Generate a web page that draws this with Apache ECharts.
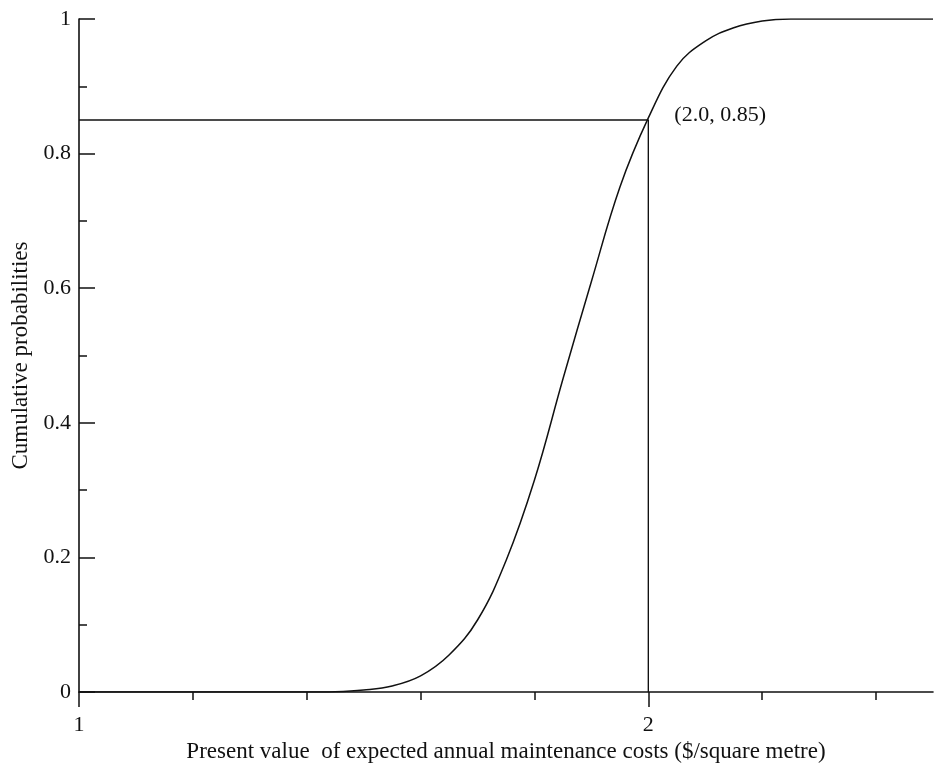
<!DOCTYPE html>
<html><head><meta charset="utf-8">
<script src="https://cdn.jsdelivr.net/npm/echarts@6/dist/echarts.min.js"></script>
<style>html,body{margin:0;padding:0;background:#fff}#c{width:936px;height:769px}</style>
</head><body><div id="c"></div>
<script>
// ---- data ----
const curveX = [1.0, 1.3, 1.4, 1.45, 1.5, 1.55, 1.6, 1.65, 1.7, 1.75, 1.8, 1.85, 1.9, 1.95, 2.0, 2.05, 2.1, 2.15, 2.2, 2.25, 2.5];
const curveY = [0, 0, 0, 0.0005, 0.003, 0.009, 0.024, 0.055, 0.107, 0.195, 0.315, 0.465, 0.61, 0.75, 0.853, 0.93, 0.967, 0.987, 0.997, 1.0, 1.0];
const refPoint = [2.0, 0.85];
const refLabel = '(2.0, 0.85)';
const xRange = [1, 2.5];
const yRange = [0, 1];
const xMajorTicks = [1, 2];
const xMinorTicks = [1.2, 1.4, 1.6, 1.8, 2.2, 2.4];
const xAxisName = 'Present value  of expected annual maintenance costs ($/square metre)';
const yAxisName = 'Cumulative probabilities';

// ---- chart ----
const FONT = '"Liberation Serif", "DejaVu Serif", serif';
const INK = '#111';
const chart = echarts.init(document.getElementById('c'), null, {renderer: 'canvas'});
const gridBox = {left: 79, right: 3, top: 19, bottom: 77, containLabel: false};
const curveData = curveX.map((x, i) => [x, curveY[i]]);
const refData = [
  [xRange[0], refPoint[1]],
  {value: refPoint.slice(), label: {show: true, position: 'right', distance: 26, offset: [0, -5],
     formatter: refLabel, fontFamily: FONT, fontSize: 22, color: INK}},
  [refPoint[0], yRange[0]]
];
chart.setOption({
  animation: false,
  backgroundColor: '#fff',
  grid: [Object.assign({}, gridBox), Object.assign({}, gridBox)],
  xAxis: [{
    gridIndex: 0, type: 'value', min: xRange[0], max: xRange[1], interval: 1,
    name: xAxisName, nameLocation: 'middle', nameGap: 41,
    nameTextStyle: {fontFamily: FONT, fontSize: 23, color: INK},
    axisLine: {show: true, lineStyle: {color: INK, width: 1.6}},
    axisTick: {show: true, length: 15, customValues: xMajorTicks, lineStyle: {color: INK, width: 1.5}},
    axisLabel: {show: true, customValues: xMajorTicks, margin: 22, fontFamily: FONT, fontSize: 22, color: INK,
      formatter: v => String(v)},
    splitLine: {show: false}
  }, {
    gridIndex: 1, type: 'value', min: xRange[0], max: xRange[1], interval: 0.2, position: 'bottom',
    axisLine: {show: false},
    axisTick: {show: true, length: 8, customValues: xMinorTicks, lineStyle: {color: INK, width: 1.5}},
    axisLabel: {show: false},
    splitLine: {show: false}
  }],
  yAxis: [{
    gridIndex: 0, type: 'value', min: yRange[0], max: yRange[1], interval: 0.2,
    name: yAxisName, nameLocation: 'middle', nameGap: 38, nameRotate: 90,
    nameTextStyle: {fontFamily: FONT, fontSize: 23, color: INK},
    axisLine: {show: true, lineStyle: {color: INK, width: 1.6}},
    axisTick: {show: true, inside: true, length: 16, lineStyle: {color: INK, width: 1.5}},
    minorTick: {show: true, splitNumber: 2, length: 8, lineStyle: {color: INK, width: 1.5}},
    axisLabel: {show: true, margin: 8, fontFamily: FONT, fontSize: 22, color: INK,
      formatter: v => String(Math.round(v * 10) / 10)},
    splitLine: {show: false}, minorSplitLine: {show: false}
  }, {
    gridIndex: 1, type: 'value', min: yRange[0], max: yRange[1], show: false
  }],
  series: [{
    type: 'line', xAxisIndex: 0, yAxisIndex: 0, data: curveData,
    smooth: 0.4, showSymbol: false, symbol: 'none',
    lineStyle: {color: INK, width: 1.5}, z: 3
  }, {
    type: 'line', xAxisIndex: 0, yAxisIndex: 0, data: refData,
    showSymbol: true, symbol: 'circle', symbolSize: 0.01,
    itemStyle: {color: INK},
    lineStyle: {color: INK, width: 1.4}, z: 2
  }]
});
</script>
</body></html>
